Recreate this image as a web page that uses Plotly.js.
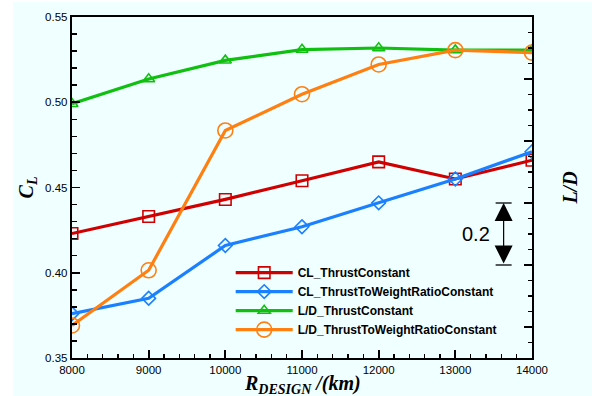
<!DOCTYPE html>
<html><head><meta charset="utf-8">
<script src="https://cdn.plot.ly/plotly-3.0.1.min.js"></script>
<style>html,body{margin:0;padding:0;background:#fff;}</style>
</head><body><div id="chart" style="width:592px;height:396px;"></div>
<script>
// ---- data ----
const rDesign = [8000, 9000, 10000, 11000, 12000, 13000, 14000];
const clThrustConstant = [0.423, 0.433, 0.443, 0.454, 0.465, 0.455, 0.466];
const clThrustToWeightRatioConstant = [0.376, 0.385, 0.416, 0.427, 0.441, 0.455, 0.471];
const ldThrustConstant = [17.72, 17.80, 17.86, 17.895, 17.90, 17.893, 17.893];
const ldThrustToWeightRatioConstant = [17.005, 17.183, 17.634, 17.751, 17.847, 17.893, 17.885];
const seriesNames = ['CL_ThrustConstant', 'CL_ThrustToWeightRatioConstant', 'L/D_ThrustConstant', 'L/D_ThrustToWeightRatioConstant'];
const xTickVals = [8000, 9000, 10000, 11000, 12000, 13000, 14000];
const xTickText = ['8000', '9000', '10000', '11000', '12000', '13000', '14000'];
const xTitle = '<b><i>R<sub>DESIGN</sub> /(km)</i></b>';
const scaleBarX = 13630;
const scaleBarLow = 17.2;
const scaleBarHigh = 17.4;
const scaleBarLabel = '0.2';
const scaleLabelX = 13270;

// ---- styles ----
const colors = ['#D00000', '#1A80FF', '#10C010', '#FF7F10'];
const symbols = ['square-open', 'diamond-open', 'triangle-up-open', 'circle-open'];
const sizes = [11.5, 10.5, 10.5, 15];
const bg = '#F0FFFF';
const sans = 'Arial, Liberation Sans, sans-serif';
const serif = 'Times New Roman, Liberation Serif, serif';

const ys = [clThrustConstant, clThrustToWeightRatioConstant, ldThrustConstant, ldThrustToWeightRatioConstant];
const axes = ['y', 'y', 'y2', 'y2'];
const traces = ys.map((y, i) => ({
  x: rDesign, y: y, name: seriesNames[i], type: 'scatter', mode: 'lines+markers', yaxis: axes[i],
  line: {color: colors[i], width: 3.2},
  marker: {symbol: symbols[i], size: sizes[i], color: colors[i], line: {color: colors[i], width: 1.6}}
}));

const tickCommon = {
  ticks: 'inside', ticklen: 8, tickwidth: 1.8, tickcolor: '#000',
  showline: true, linewidth: 2.2, linecolor: '#000', showgrid: false, zeroline: false,
  tickfont: {family: sans, size: 11.5, color: '#000'}
};
const minorCommon = {ticks: 'inside', ticklen: 4.5, tickwidth: 1.5, tickcolor: '#000'};

const layout = {
  width: 592, height: 396,
  margin: {l: 72, r: 60, t: 17, b: 38, pad: 0},
  paper_bgcolor: bg, plot_bgcolor: bg,
  showlegend: true,
  xaxis: Object.assign({}, tickCommon, {
    range: [8000, 14000], tickvals: xTickVals, ticktext: xTickText, mirror: true,
    minor: Object.assign({dtick: 200}, minorCommon)
  }),
  yaxis: Object.assign({}, tickCommon, {
    range: [0.35, 0.55], dtick: 0.05, tick0: 0.35, tickformat: '.2f',
    minor: Object.assign({dtick: 0.01}, minorCommon),
    title: {text: '<b><i>C<sub>L</sub></i></b>', font: {family: serif, size: 20, color: '#000'}, standoff: 6}
  }),
  yaxis2: Object.assign({}, tickCommon, {
    overlaying: 'y', side: 'right', range: [16.9, 18.0], dtick: 0.2, tick0: 17.0, showticklabels: false,
    minor: Object.assign({dtick: 0.05}, minorCommon),
    title: {text: '<b><i>L/D</i></b>', font: {family: serif, size: 20, color: '#000'}, standoff: 30}
  }),
  legend: {
    x: 0.345, y: 0.293, xanchor: 'left', yanchor: 'top', bgcolor: 'rgba(0,0,0,0)',
    itemwidth: 57, tracegroupgap: 0,
    font: {family: sans, size: 12, color: '#000', weight: 'bold'}
  },
  shapes: [
    {type: 'rect', xref: 'paper', yref: 'paper', x0: -0.2, x1: -0.1283, y0: -0.2, y1: 1.2, fillcolor: '#fff', line: {width: 0}, layer: 'below'},
    {type: 'rect', xref: 'paper', yref: 'paper', x0: -0.2, x1: 1.2, y0: 1.044, y1: 1.2, fillcolor: '#fff', line: {width: 0}, layer: 'below'},
    {type: 'line', xref: 'x', yref: 'y2', xsizemode: 'pixel', xanchor: scaleBarX, x0: -8, x1: 8, y0: scaleBarHigh, y1: scaleBarHigh, line: {color: '#000', width: 1.3}},
    {type: 'line', xref: 'x', yref: 'y2', xsizemode: 'pixel', xanchor: scaleBarX, x0: -8, x1: 8, y0: scaleBarLow, y1: scaleBarLow, line: {color: '#000', width: 1.3}}
  ],
  annotations: [
    {xref: 'x', yref: 'y2', x: scaleBarX, y: scaleBarHigh, axref: 'x', ayref: 'y2', ax: scaleBarX, ay: scaleBarLow,
     text: '', showarrow: true, arrowside: 'end+start', arrowhead: 2, startarrowhead: 2, arrowsize: 3, startarrowsize: 3, arrowwidth: 1.2, arrowcolor: '#000', standoff: 0, startstandoff: 0},
    {xref: 'x', yref: 'y2', x: scaleLabelX, y: (scaleBarLow + scaleBarHigh) / 2, text: scaleBarLabel, showarrow: false,
     xanchor: 'center', yanchor: 'middle', font: {family: sans, size: 20, color: '#000'}},
    {xref: 'paper', yref: 'paper', x: 0.5, y: -0.035, text: xTitle, showarrow: false,
     xanchor: 'center', yanchor: 'top', font: {family: serif, size: 20, color: '#000'}}
  ]
};

Plotly.newPlot('chart', traces, layout, {displayModeBar: false, staticPlot: true});
</script>
</body></html>
